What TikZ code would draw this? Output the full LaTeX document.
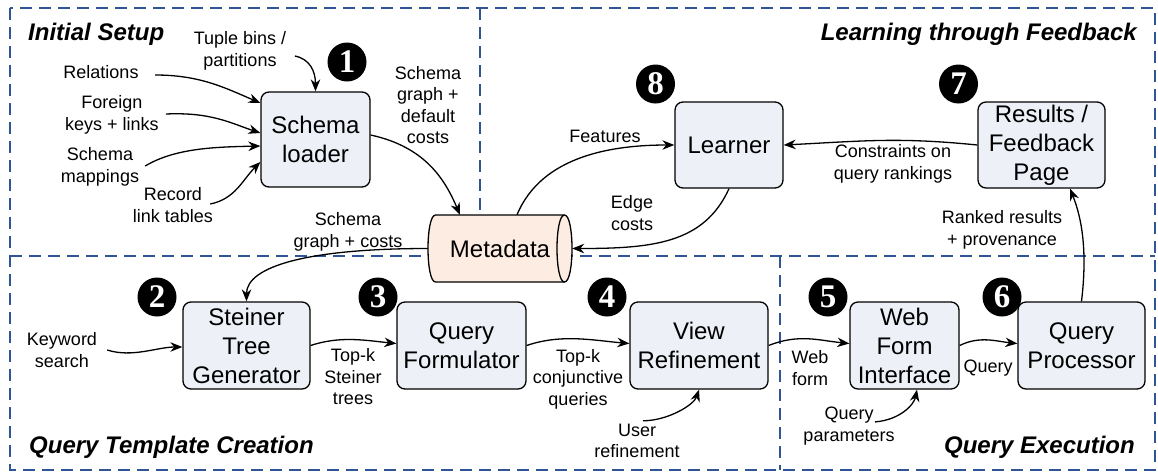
\documentclass[tikz,border=0pt]{standalone}
\usepackage{fontspec}
\setmainfont{Liberation Sans}
\newfontfamily\numfont{Liberation Serif}
\usetikzlibrary{arrows.meta,calc}
\definecolor{regionblue}{RGB}{47,85,151}
\definecolor{boxfill}{RGB}{237,240,246}
\definecolor{cylfill}{RGB}{252,236,225}
\tikzset{
 region/.style={draw=regionblue, line width=1.6pt, dash pattern=on 12pt off 7pt},
 procbox/.style={draw=black, line width=1.3pt, rounded corners=8pt, fill=boxfill, align=center, inner sep=0pt, font=\fontsize{24}{29}\selectfont},
 lbl/.style={align=center, inner sep=0pt, font=\fontsize{18}{21.5}\selectfont},
 ttl/.style={inner sep=0pt, font=\fontsize{24}{29}\selectfont\bfseries\itshape},
 badge/.style={circle, fill=black, minimum size=39pt, inner sep=0pt, text=white, font=\numfont\fontsize{33}{33}\selectfont\bfseries},
 flow/.style={draw=black, line width=1.3pt, -{Stealth[length=12pt,width=9.5pt]}},
}
\begin{document}
\begin{tikzpicture}[x=1pt,y=-1pt]
\useasboundingbox (0,0) rectangle (1158,472);
% regions
\draw[region] (10,8) rectangle (1155,470);
\draw[region] (10,256) -- (1155,256);
\draw[region] (480,8) -- (480,256);
\draw[region] (780,256) -- (780,470);
% cylinder body
\path[draw=black, fill=cylfill, line width=1.3pt] (435.5,215) -- (564.5,215) .. controls (574.5,215) and (574.5,282) .. (564.5,282) -- (435.5,282) .. controls (425.5,282) and (425.5,215) .. (435.5,215) -- cycle;
\draw[line width=1.3pt] (564.5,215) .. controls (554.5,215) and (554.5,282) .. (564.5,282);
\node[inner sep=0pt, minimum width=144pt, minimum height=67pt, font=\fontsize{24}{29}\selectfont] (meta) at (500,248.5) {Metadata};
% boxes
\node[procbox, minimum width=109pt, minimum height=95pt] (loader) at (315.5,139.5) {Schema\\loader};
\node[procbox, minimum width=108pt, minimum height=86pt] (learner) at (729,145) {Learner};
\node[procbox, minimum width=127pt, minimum height=86pt] (results) at (1041.5,145) {Results /\\Feedback\\Page};
\node[procbox, minimum width=127pt, minimum height=87pt] (steiner) at (246.5,345.5) {Steiner\\Tree\\Generator};
\node[procbox, minimum width=129pt, minimum height=87pt] (formulator) at (461.5,345.5) {Query\\Formulator};
\node[procbox, minimum width=138pt, minimum height=87pt] (view) at (699,345.5) {View\\Refinement};
\node[procbox, minimum width=109pt, minimum height=87pt] (webform) at (904.5,345.5) {Web\\Form\\Interface};
\node[procbox, minimum width=127pt, minimum height=87pt] (processor) at (1081.5,345.5) {Query\\Processor};
% badges
\node[badge] (n1) at (347,62) {1};
\node[badge] (n8) at (655.5,84) {8};
\node[badge] (n7) at (958.5,84) {7};
\node[badge] (n2) at (157,297) {2};
\node[badge] (n3) at (378,297) {3};
\node[badge] (n4) at (607,297) {4};
\node[badge] (n5) at (828,297) {5};
\node[badge] (n6) at (1002,297) {6};
% titles
\node[ttl, anchor=base west] (tinit) at (28,40) {Initial Setup};
\node[ttl, anchor=base east] (tlearn) at (1137,40) {Learning through Feedback};
\node[ttl, anchor=base west] (tqtc) at (29,453) {Query Template Creation};
\node[ttl, anchor=base east] (tqe) at (1135,453) {Query Execution};
% labels
\node[lbl] (tuple) at (240,51) {Tuple bins /\\partitions};
\node[lbl] (relations) at (101,72) {Relations};
\node[lbl] (foreign) at (112,115) {Foreign\\keys + links};
\node[lbl] (mappings) at (100,167) {Schema\\mappings};
\node[lbl] (record) at (173,205) {Record\\link tables};
\node[lbl] (sgdc) at (428,105) {Schema\\graph +\\default\\costs};
\node[lbl] (sgc) at (348,232) {Schema\\graph + costs};
\node[lbl] (features) at (605,136) {Features};
\node[lbl] (edgecosts) at (632,213) {Edge\\costs};
\node[lbl] (constraints) at (893,164) {Constraints on\\query rankings};
\node[lbl] (ranked) at (1002,230) {Ranked results\\+ provenance};
\node[lbl] (keyword) at (62,350) {Keyword\\search};
\node[lbl] (topk1) at (353,377) {Top-k\\Steiner\\trees};
\node[lbl] (topk2) at (578,379) {Top-k\\conjunctive\\queries};
\node[lbl] (userref) at (637,441) {User\\refinement};
\node[lbl] (webformlbl) at (810,368) {Web\\form};
\node[lbl] (querylbl) at (988,368) {Query};
\node[lbl] (qparams) at (849,426) {Query\\parameters};
% connectors
\draw[flow] ($(tuple.east)+(8.5,5)$) .. controls +(15,3) and +(0,-20) .. (loader.north);
\draw[flow] ($(relations.east)+(16.5,3)$) .. controls +(45,0) and +(-35,-15) .. ($(loader.west)+(0,-36.5)$);
\draw[flow] ($(foreign.east)+(7,-1)$) .. controls +(45,-2) and +(-30,-10) .. ($(loader.west)+(0,-6.5)$);
\draw[flow] ($(mappings.east)+(6,-1)$) .. controls +(30,-18) and +(-45,1) .. ($(loader.west)+(0,6.5)$);
\draw[flow] ($(record.east)+(-3,-1)$) .. controls +(25,-5) and +(-18,18) .. ($(loader.west)+(0,22.5)$);
\draw[flow] ($(loader.east)+(0,-4.5)$) .. controls +(55,12) and +(-15,-35) .. ($(meta.north)+(-40,0)$);
\draw[flow] ($(meta.north)+(17,0)$) .. controls +(25,-60) and +(-60,0) .. (learner.west);
\draw[flow] (learner.south) .. controls +(-25,55) and +(80,0) .. (meta.east);
\draw[flow] (results.west) .. controls +(-80,-8) and +(80,-4) .. (learner.east);
\draw[flow] (processor.north) .. controls +(6,-50) and +(12,30) .. ($(results.south)+(28.5,0)$);
\draw[flow] (meta.west) .. controls +(-120,0) and +(0,-35) .. (steiner.north);
\draw[flow] ($(keyword.east)+(10,0)$) .. controls +(25,8) and +(-25,0) .. ($(steiner.west)+(0,1.5)$);
\draw[flow] (steiner.east) .. controls +(30,-10) and +(-30,-3) .. ($(formulator.west)+(0,-2)$);
\draw[flow] (formulator.east) .. controls +(35,-12) and +(-35,-3) .. ($(view.west)+(0,-2)$);
\draw[flow] (view.east) .. controls +(30,-12) and +(-30,-3) .. ($(webform.west)+(0,-2)$);
\draw[flow] (webform.east) .. controls +(20,-10) and +(-20,-2) .. ($(processor.west)+(0,-2)$);
\draw[flow] ($(userref.north)+(6,-3)$) .. controls +(25,0) and +(-5,15) .. (view.south);
\draw[flow] ($(qparams.north)+(26,15)$) .. controls +(25,-2) and +(-3,15) .. ($(webform.south)+(12.5,0)$);
\end{tikzpicture}
\end{document}
